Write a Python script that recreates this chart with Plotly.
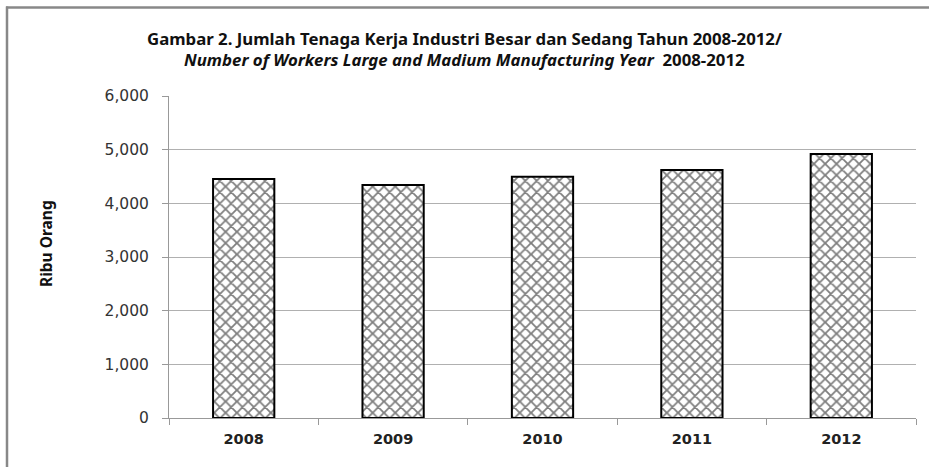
import plotly.graph_objects as go

years = ["2008", "2009", "2010", "2011", "2012"]
workers = [4453, 4341, 4497, 4621, 4919]
y_ticks = [0, 1000, 2000, 3000, 4000, 5000, 6000]
y_tick_labels = ["0", "1,000", "2,000", "3,000", "4,000", "5,000", "6,000"]
title_line1 = "Gambar 2. Jumlah Tenaga Kerja Industri Besar dan Sedang Tahun 2008-2012/"
title_line2 = "<i>Number of Workers Large and Madium Manufacturing Year</i>  2008-2012"
y_title = "Ribu Orang"

fig = go.Figure()
fig.add_trace(go.Bar(
    x=years, y=workers,
    width=0.41,
    marker=dict(
        color="white",
        line=dict(color="black", width=2),
        pattern=dict(shape="x", fgcolor="black", bgcolor="white", size=8, solidity=0.4, fillmode="overlay"),
    ),
    showlegend=False,
))

fig.update_layout(
    width=929, height=467,
    margin=dict(l=169, r=13, t=96, b=49),
    paper_bgcolor="white", plot_bgcolor="white",
    font=dict(family="DejaVu Sans", color="#222"),
    bargap=0.59,
)
fig.update_yaxes(
    range=[0, 6000], tickvals=y_ticks, ticktext=y_tick_labels,
    showgrid=True, gridcolor="#b0b0b0", gridwidth=1,
    showline=True, linecolor="#999", linewidth=1,
    ticks="outside", ticklen=6, tickcolor="#999",
    tickfont=dict(family="DejaVu Sans", size=15.5, color="#333"),
    ticklabelstandoff=10,
    zeroline=False, fixedrange=True,
)
fig.update_xaxes(
    showline=True, linecolor="#999", linewidth=1,
    ticks="outside", ticklen=6, tickcolor="#999", tickson="boundaries",
    tickfont=dict(family="DejaVu Sans", size=14.5, color="#222", weight="bold"),
    ticklabelstandoff=8,
    showgrid=False,
)

fig.add_annotation(
    xref="paper", yref="paper", x=(464.5 - 169) / 747, y=(467 - 39 - 49) / 322,
    text="<b>" + title_line1 + "</b>", showarrow=False,
    font=dict(family="Noto Sans", size=16.8, color="#111"),
    xanchor="center", yanchor="middle",
)
fig.add_annotation(
    xref="paper", yref="paper", x=(464.5 - 169) / 747, y=(467 - 59 - 49) / 322,
    text="<b>" + title_line2 + "</b>", showarrow=False,
    font=dict(family="Noto Sans", size=16.8, color="#111"),
    xanchor="center", yanchor="middle",
)
fig.add_annotation(
    xref="paper", yref="paper", x=(46 - 169) / 747, y=(467 - 244 - 49) / 322,
    text="<b>" + y_title + "</b>", showarrow=False, textangle=-90,
    font=dict(family="Noto Sans", size=15.5, color="#111"),
    xanchor="center", yanchor="middle",
)

# outer frame lines (top and left)
fig.add_shape(type="line", xref="paper", yref="paper",
              x0=(6 - 169) / 747, x1=(929 - 169) / 747,
              y0=(467 - 7.5 - 49) / 322, y1=(467 - 7.5 - 49) / 322,
              line=dict(color="#888", width=2.5))
fig.add_shape(type="line", xref="paper", yref="paper",
              x0=(7 - 169) / 747, x1=(7 - 169) / 747,
              y0=(467 - 6.5 - 49) / 322, y1=-49 / 322,
              line=dict(color="#888", width=2.5))

fig.write_html("out.html", config={"displayModeBar": False},
               post_script="document.body.style.margin='0';document.body.style.overflow='hidden';")
